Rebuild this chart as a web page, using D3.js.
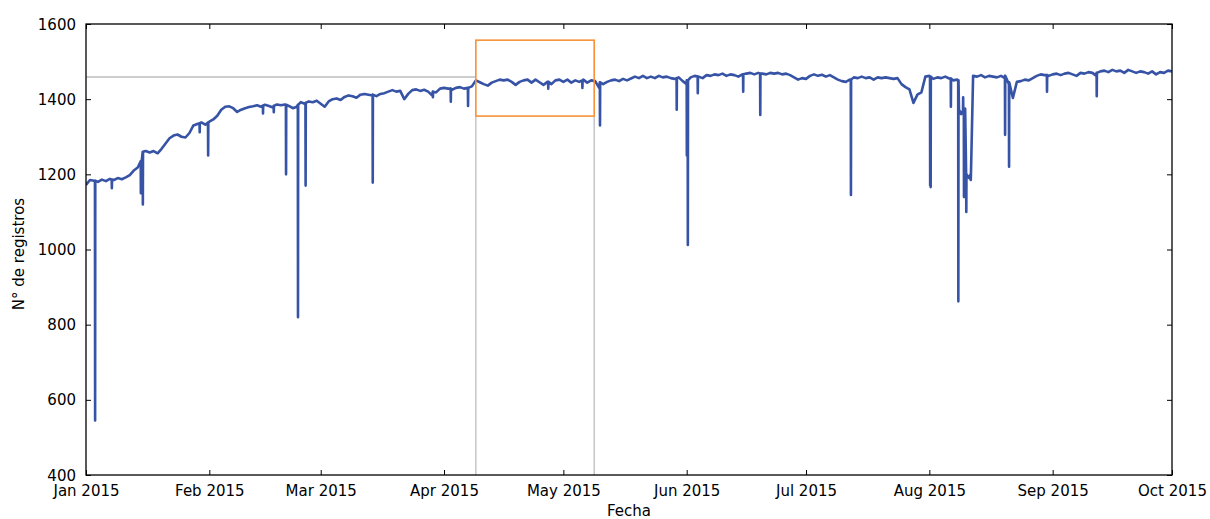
<!DOCTYPE html>
<html>
<head>
<meta charset="utf-8">
<script src="https://cdn.jsdelivr.net/npm/d3@7"></script>
<style>
  body { margin: 0; background: #ffffff; }
  text { font-family: "DejaVu Sans", sans-serif; fill: #000; }
</style>
</head>
<body>
<div id="chart"></div>
<script>
// #####################################################
// Data
//
var startDay = "2015-01-01";

// one value per day, Jan 1 .. Oct 1 2015
var dailyValues = [
  1172, 1185, 1183, 1180, 1186, 1182, 1188, 1185, 1190, 1187,
  1192, 1198, 1210, 1218, 1235, 1262, 1258, 1262, 1256, 1268,
  1282, 1296, 1303, 1306, 1300, 1298, 1310, 1330, 1334, 1338,
  1332, 1340, 1346, 1356, 1372, 1380, 1381, 1376, 1366, 1372,
  1376, 1379, 1381, 1384, 1380, 1385, 1382, 1378, 1386, 1384,
  1386, 1382, 1376, 1380, 1392, 1388, 1394, 1392, 1396, 1388,
  1380, 1394, 1400, 1402, 1398, 1406, 1410, 1408, 1404, 1412,
  1414, 1412, 1410, 1408, 1414, 1416, 1420, 1424, 1420, 1422,
  1400, 1414, 1424, 1426, 1422, 1425, 1420, 1410, 1418, 1428,
  1430, 1428, 1425, 1430, 1432, 1428, 1430, 1434, 1450, 1445,
  1440, 1436, 1444, 1448, 1452, 1450, 1452, 1446, 1438, 1446,
  1450, 1452, 1444, 1452, 1445, 1438, 1446, 1440, 1450, 1452,
  1446, 1452, 1444, 1450, 1446, 1452, 1444, 1450, 1448, 1430,
  1440, 1446, 1450, 1452, 1448, 1454, 1450, 1455, 1460, 1456,
  1462, 1456, 1460, 1456, 1462, 1458, 1460, 1456, 1454, 1458,
  1448, 1440, 1458, 1462, 1460, 1456, 1464, 1462, 1466, 1464,
  1468, 1462, 1466, 1464, 1460, 1466, 1468, 1470, 1466, 1470,
  1468, 1466, 1470, 1468, 1470, 1466, 1468, 1464, 1458, 1452,
  1456, 1454, 1462, 1466, 1462, 1465, 1460, 1464, 1458, 1452,
  1448, 1446, 1452, 1458, 1456, 1460, 1456, 1458, 1452, 1458,
  1456, 1458, 1456, 1454, 1456, 1440, 1432, 1426, 1390, 1412,
  1418, 1460, 1462, 1454, 1458, 1456, 1460, 1455, 1450, 1452,
  1360, 1375, 1190, 1462, 1460, 1464, 1458, 1462, 1460, 1458,
  1462, 1456, 1440, 1403, 1446, 1448, 1452, 1450, 1456, 1462,
  1466, 1464, 1462, 1466, 1468, 1464, 1468, 1470, 1466, 1462,
  1470, 1468, 1472, 1470, 1462, 1474, 1476, 1472, 1478, 1474,
  1476, 1470, 1478, 1474, 1470, 1474, 1472, 1468, 1474, 1466,
  1472, 1470, 1476, 1474
];

// short drops: time, level just around the drop, lowest value
var spikeTimes = [
  "2015-01-03T07:00", "2015-01-07T12:00", "2015-01-14T19:00", "2015-01-15T07:00",
  "2015-01-29T14:00", "2015-01-31T17:00", "2015-02-14T12:00", "2015-02-17T05:00",
  "2015-02-20T07:00", "2015-02-23T07:00", "2015-02-25T05:00", "2015-03-14T02:00",
  "2015-03-29T05:00", "2015-04-02T17:00", "2015-04-07T01:00", "2015-04-27T05:00",
  "2015-05-05T19:00", "2015-05-10T05:00", "2015-05-29T12:00", "2015-06-01T01:00",
  "2015-06-01T07:00", "2015-06-03T19:00", "2015-06-15T05:00", "2015-06-19T12:00",
  "2015-07-12T07:00", "2015-08-01T05:00", "2015-08-01T08:00", "2015-08-06T10:00",
  "2015-08-08T07:00", "2015-08-08T12:00", "2015-08-09T12:00", "2015-08-09T17:00",
  "2015-08-10T07:00", "2015-08-11T10:00", "2015-08-20T01:00", "2015-08-21T01:00",
  "2015-08-30T14:00", "2015-09-12T02:00"
];
var spikeLevels = [
  1183, 1186, 1235, 1260,
  1336, 1338, 1383, 1382,
  1385, 1385, 1390, 1412,
  1420, 1428, 1430, 1446,
  1450, 1445, 1456, 1450,
  1450, 1460, 1466, 1468,
  1452, 1460, 1460, 1455,
  1450, 1370, 1370, 1370,
  1200, 1200, 1462, 1445,
  1464, 1470
];
var spikeValues = [
  545, 1163, 1150, 1120,
  1312, 1250, 1362, 1365,
  1200, 820, 1170, 1178,
  1405, 1393, 1382, 1428,
  1430, 1330, 1372, 1250,
  1012, 1416, 1420, 1358,
  1145, 1170, 1166, 1380,
  862, 1370, 1405, 1140,
  1100, 1185, 1305, 1220,
  1420, 1408
];

// zoom window drawn on the chart
var zoomFrom = "2015-04-09T00:00";
var zoomTo = "2015-05-08T18:00";
var zoomLow = 1355;
var zoomHigh = 1557;
var refLevel = 1459;

var yTicks = [400, 600, 800, 1000, 1200, 1400, 1600];
var monthTicks = ["2015-01-01", "2015-02-01", "2015-03-01", "2015-04-01", "2015-05-01",
                  "2015-06-01", "2015-07-01", "2015-08-01", "2015-09-01", "2015-10-01"];

// #####################################################
// Build the series
//
var parseDay = d3.timeParse("%Y-%m-%d");
var parseTime = d3.timeParse("%Y-%m-%dT%H:%M");
var day0 = parseDay(startDay);

var series = [];
for (var i = 0; i < dailyValues.length; i++) {
  series.push({ date: d3.timeDay.offset(day0, i), value: dailyValues[i] });
}
for (var j = 0; j < spikeTimes.length; j++) {
  var t = parseTime(spikeTimes[j]);
  series.push({ date: d3.timeHour.offset(t, -1), value: spikeLevels[j] });
  series.push({ date: t, value: spikeValues[j] });
  series.push({ date: d3.timeHour.offset(t, 1), value: spikeLevels[j] });
}
series.sort(function(a, b) { return a.date - b.date; });

// #####################################################
// Plot
//
var margin = {top: 24, right: 38, bottom: 44, left: 86},
    width = 1210 - margin.left - margin.right,
    height = 519 - margin.top - margin.bottom;

var svg = d3.select("#chart").append("svg")
    .attr("width", width + margin.left + margin.right)
    .attr("height", height + margin.top + margin.bottom)
  .append("g")
    .attr("transform", "translate(" + margin.left + "," + margin.top + ")");

var x = d3.scaleTime()
    .domain([parseDay(monthTicks[0]), parseDay(monthTicks[monthTicks.length - 1])])
    .range([0, width]);
var y = d3.scaleLinear().domain([400, 1600]).range([height, 0]);

svg.append("defs").append("clipPath").attr("id", "clip")
  .append("rect").attr("width", width).attr("height", height);

// the series
svg.append("path")
    .datum(series)
    .attr("clip-path", "url(#clip)")
    .attr("fill", "none")
    .attr("stroke", "#3653a5")
    .attr("stroke-width", 2.6)
    .attr("stroke-linejoin", "round")
    .attr("d", d3.line()
      .x(function(d) { return x(d.date); })
      .y(function(d) { return y(d.value); }));

// zoom window guides
var gray = "#bdbdbd";
svg.append("line")
    .attr("x1", 0).attr("x2", x(parseTime(zoomFrom)))
    .attr("y1", y(refLevel)).attr("y2", y(refLevel))
    .style("stroke", gray).attr("stroke-width", 1.3);
[zoomFrom, zoomTo].forEach(function(t) {
  svg.append("line")
      .attr("x1", x(parseTime(t))).attr("x2", x(parseTime(t)))
      .attr("y1", y(zoomLow)).attr("y2", y(400))
      .style("stroke", gray).attr("stroke-width", 1.3);
});
svg.append("rect")
    .attr("x", x(parseTime(zoomFrom)))
    .attr("y", y(zoomHigh))
    .attr("width", x(parseTime(zoomTo)) - x(parseTime(zoomFrom)))
    .attr("height", y(zoomLow) - y(zoomHigh))
    .style("fill", "none")
    .style("stroke", "#f7923a")
    .attr("stroke-width", 1.6);

// axes, ticks pointing inwards on all four sides
var monthDates = monthTicks.map(parseDay);
var fmt = d3.timeFormat("%b %Y");

var xBottom = svg.append("g")
    .attr("transform", "translate(0," + height + ")")
    .call(d3.axisBottom(x).tickValues(monthDates).tickFormat(fmt).tickSizeInner(-5).tickSizeOuter(0).tickPadding(10));
var xTop = svg.append("g")
    .call(d3.axisTop(x).tickValues(monthDates).tickFormat("").tickSizeInner(-5).tickSizeOuter(0));
var yLeft = svg.append("g")
    .call(d3.axisLeft(y).tickValues(yTicks).tickFormat(d3.format("d")).tickSizeInner(-5).tickSizeOuter(0).tickPadding(10));
var yRight = svg.append("g")
    .attr("transform", "translate(" + width + ",0)")
    .call(d3.axisRight(y).tickValues(yTicks).tickFormat("").tickSizeInner(-5).tickSizeOuter(0));

[xBottom, xTop, yLeft, yRight].forEach(function(g) {
  g.select(".domain").remove();
  g.selectAll("line").style("stroke", "#000").attr("stroke-width", 1);
  g.selectAll("text").style("font-size", "15px").style("font-family", "DejaVu Sans, sans-serif");
});
yLeft.selectAll("text").attr("dy", "0.34em");

// frame
svg.append("rect")
    .attr("width", width).attr("height", height)
    .style("fill", "none").style("stroke", "#000").attr("stroke-width", 1.3);

// axis labels
svg.append("text")
    .attr("x", width / 2)
    .attr("y", height + 41)
    .style("text-anchor", "middle")
    .style("font-size", "15px")
    .text("Fecha");

svg.append("text")
    .attr("transform", "rotate(-90)")
    .attr("x", 0 - 230)
    .attr("y", 24 - margin.left)
    .style("text-anchor", "middle")
    .style("font-size", "15px")
    .text("N° de registros");
</script>
</body>
</html>
